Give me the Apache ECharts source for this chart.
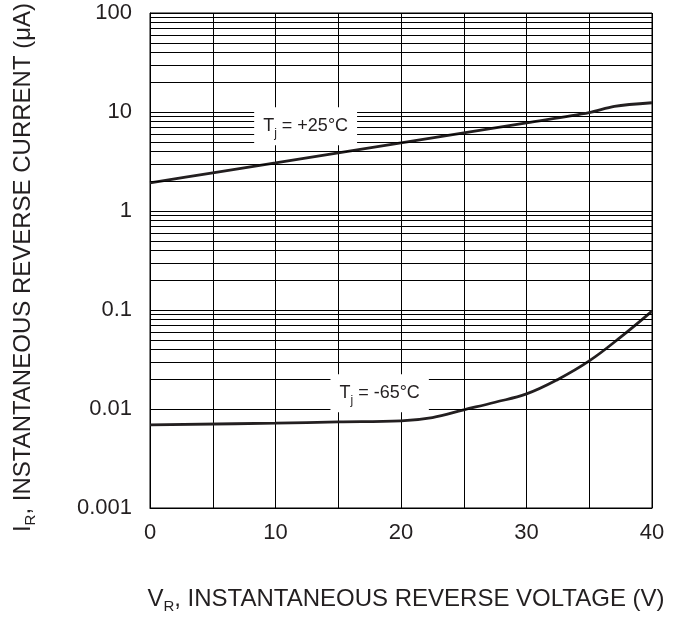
<!DOCTYPE html>
<html>
<head>
<meta charset="utf-8">
<script src="https://cdn.jsdelivr.net/npm/echarts@6/dist/echarts.min.js"></script>
<style>
  html, body { margin: 0; padding: 0; background: #fff; }
  #chart { width: 678px; height: 619px; }
</style>
</head>
<body>
<div id="chart"></div>
<script>
// reverse voltage (V) vs reverse current (uA)
var voltage25 = [0, 5, 10, 15, 20, 25, 30, 35, 37, 40];
var current25 = [1.92, 2.43, 3.06, 3.87, 4.88, 6.15, 7.78, 9.86, 11.4, 12.4];

var voltage65 = [0, 10, 15, 20, 22.5, 25, 27.5, 30, 32.5, 35, 37.5, 40];
var current65 = [0.0069, 0.0072, 0.0074, 0.0076, 0.0082, 0.0098, 0.0117, 0.0142, 0.0199, 0.0306, 0.0532, 0.0975];

var yTickLabels = ['0.001', '0.01', '0.1', '1', '10', '100'];
var xTickLabels = ['0', '10', '20', '30', '40'];
var decades = [0.001, 0.01, 0.1, 1, 10];
var minorSteps = [2, 3, 4, 5, 6, 7, 8, 9];

var label25 = { text: '+25°C', at: [12.4, 7.18] };
var label65 = { text: '-65°C', at: [18.3, 0.0144] };

var ink = '#231f20';
var font = '"Liberation Sans", Arial, sans-serif';

function pairs(xs, ys) {
  return xs.map(function (x, i) { return [x, ys[i]]; });
}

var minorLines = [];
decades.forEach(function (d) {
  minorSteps.forEach(function (m) { minorLines.push({ yAxis: d * m }); });
});

function tjLabel(l) {
  return {
    coord: l.at,
    symbol: 'rect',
    symbolSize: 1,
    itemStyle: { color: 'rgba(0,0,0,0)' },
    label: {
      show: true,
      position: 'inside',
      formatter: '{t|T}{s|j}{t| = ' + l.text + '}',
      backgroundColor: '#fff',
      padding: [6, 9, 6, 9],
      rich: {
        t: { fontSize: 18, fontFamily: font, color: ink, lineHeight: 26, verticalAlign: 'middle' },
        s: { fontSize: 12, fontFamily: font, color: ink, lineHeight: 26, verticalAlign: 'bottom', padding: [8, 0, 0, 0] }
      }
    }
  };
}

var titleRich = {
  t: { fontSize: 24, fontFamily: font, color: ink, lineHeight: 30, verticalAlign: 'middle' },
  s: { fontSize: 15, fontFamily: font, color: ink, lineHeight: 30, verticalAlign: 'bottom', padding: [10, 0, 0, 0] }
};

var chart = echarts.init(document.getElementById('chart'));
chart.setOption({
  animation: false,
  grid: { left: 150, right: 26, top: 13, bottom: 99, show: true, borderColor: '#000', borderWidth: 1 },
  xAxis: {
    type: 'value', min: 0, max: 40, interval: 10,
    axisLine: { show: true, lineStyle: { color: '#000', width: 1 } },
    axisTick: { show: false },
    minorTick: { show: false, splitNumber: 2 },
    splitLine: { show: true, lineStyle: { color: '#000', width: 1 } },
    minorSplitLine: { show: true, lineStyle: { color: '#000', width: 1 } },
    axisLabel: {
      margin: 14, fontSize: 22, fontFamily: font, color: ink,
      formatter: function (v, i) { return xTickLabels[i]; }
    },
    name: '{t|V}{s|R}{t|, INSTANTANEOUS REVERSE VOLTAGE (V)}',
    nameLocation: 'middle', nameGap: 76,
    nameTextStyle: { padding: [0, 0, 0, 10], rich: titleRich }
  },
  yAxis: {
    type: 'log', logBase: 10, min: 0.001, max: 100,
    axisLine: { show: true, lineStyle: { color: '#000', width: 1 } },
    axisTick: { show: false },
    splitLine: { show: true, lineStyle: { color: '#000', width: 1 } },
    axisLabel: {
      margin: 18, fontSize: 22, fontFamily: font, color: ink,
      formatter: function (v, i) { return yTickLabels[i]; }
    },
    name: '{t|I}{s|R}{t|, INSTANTANEOUS REVERSE CURRENT (μA)}',
    nameLocation: 'middle', nameGap: 112,
    nameTextStyle: { padding: [0, 14, 0, 0], rich: titleRich }
  },
  series: [
    {
      type: 'line', data: [], silent: true, z: 1,
      markLine: {
        silent: true, symbol: ['none', 'none'], animation: false,
        label: { show: false },
        lineStyle: { color: '#000', width: 1, type: 'solid' },
        data: minorLines
      }
    },
    {
      name: '+25', type: 'line', smooth: 0.3, showSymbol: false, z: 3,
      lineStyle: { color: ink, width: 2.8 },
      data: pairs(voltage25, current25)
    },
    {
      name: '-65', type: 'line', smooth: 0.4, showSymbol: false, z: 3,
      lineStyle: { color: ink, width: 2.8 },
      data: pairs(voltage65, current65)
    },
    {
      type: 'line', data: [], z: 10, silent: true,
      markPoint: { silent: true, animation: false, data: [tjLabel(label25), tjLabel(label65)] }
    }
  ]
});
</script>
</body>
</html>
